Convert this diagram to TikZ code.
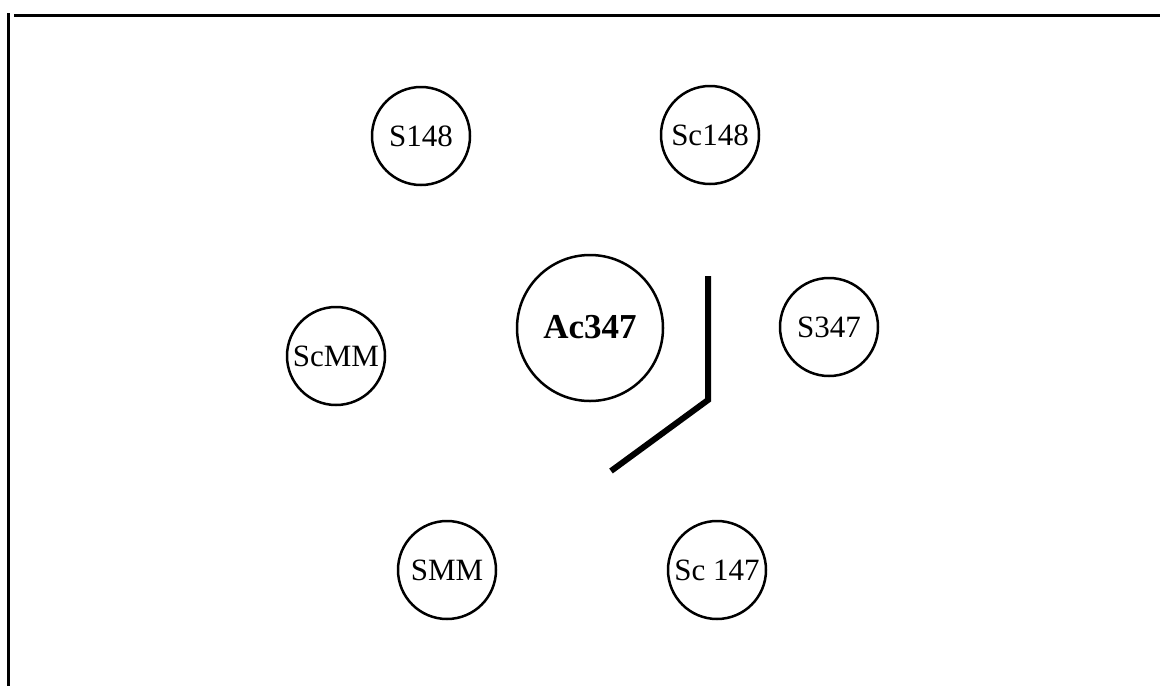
\documentclass[tikz,border=0pt]{standalone}
\usepackage{fontspec}
\setmainfont{Liberation Serif}
\usepackage{tikz}
\usetikzlibrary{positioning}

\begin{document}
\begin{tikzpicture}[
  x=1pt, y=-1pt,
  font=\fontsize{31}{36}\selectfont,
  site/.style={draw, circle, line width=2.5pt, inner sep=0pt,
               minimum size=98pt, text centered},
  centre/.style={site, minimum size=146pt,
                 font=\fontsize{35}{40}\selectfont\bfseries},
  frameline/.style={line width=3pt},
  barline/.style={line width=6pt}
]
\useasboundingbox (0,0) rectangle (1160,686);

%% Frame
\draw [frameline] (14,15) -- (1160,15);
\draw [frameline] (8,13) -- (8,686);

%% Central node
\node (ac347) [centre] at (590,328) {\raisebox{3pt}{Ac347}};

%% Surrounding nodes
\node (s148)  [site] at (421,136) {S148};
\node (sc148) [site] at (710,135) {Sc148};
\node (scmm)  [site] at (336,356) {ScMM};
\node (s347)  [site] at (829,327) {S347};
\node (smm)   [site] at (447,570) {SMM};
\node (sc147) [site] at (717,570) {Sc 147};

%% Bent bar
\coordinate (bartop) at (708,276);
\coordinate (barknee) at (708,400);
\coordinate (barend) at (611,471);
\draw [barline] (bartop) -- (barknee) -- (barend);

\end{tikzpicture}
\end{document}
